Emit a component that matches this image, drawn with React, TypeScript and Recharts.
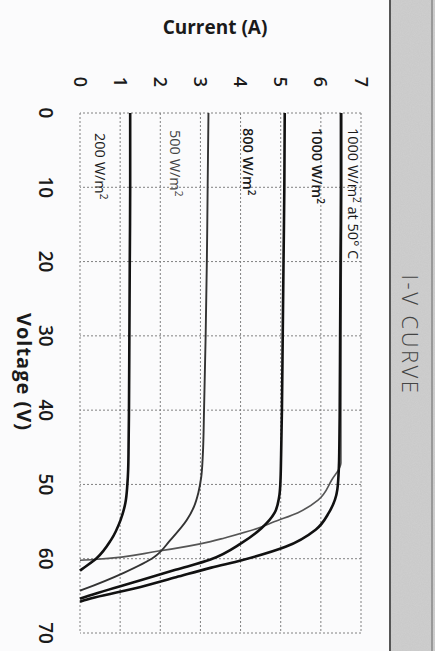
import { LineChart, Line, XAxis, YAxis, CartesianGrid } from 'recharts';

// scanned datasheet chart, drawn upright then turned 90deg clockwise
const voltageTicks = [0, 10, 20, 30, 40, 50, 60, 70];
const currentTicks = [0, 1, 2, 3, 4, 5, 6, 7];

const v200 = [0, 10, 20, 30, 40, 45, 48, 50, 52.5, 54.8, 57.5, 59.9, 61.4, 61.6];
const i200 = [1.25, 1.25, 1.24, 1.23, 1.22, 1.21, 1.2, 1.18, 1.13, 1.01, 0.77, 0.42, 0.05, 0];

const v500 = [0, 10, 20, 30, 40, 46, 49, 51.1, 53, 54.8, 57.5, 59.8, 61.9, 64.2, 64.3];
const i500 = [3.2, 3.18, 3.16, 3.13, 3.09, 3.06, 3.02, 2.95, 2.84, 2.66, 2.25, 1.84, 1.09, 0.05, 0];

const v800 = [0, 10, 20, 30, 40, 46, 50, 51.7, 53.8, 55.9, 57.9, 60.1, 61.5, 62.9, 65.3, 65.4];
const i800 = [5.1, 5.09, 5.07, 5.05, 5.03, 5.01, 4.99, 4.96, 4.85, 4.52, 4.02, 3.25, 2.38, 1.51, 0.05, 0];

const v1000 = [0, 10, 20, 30, 40, 45, 47.5, 50.7, 53.8, 56.1, 58.4, 60.2, 61.2, 62.5, 63.8, 65.7, 65.8];
const i1000 = [6.5, 6.5, 6.49, 6.48, 6.47, 6.46, 6.45, 6.41, 6.2, 5.87, 5.12, 4.03, 3.27, 2.39, 1.51, 0.05, 0];

const vHot = [0, 10, 20, 30, 40, 45, 47.1, 49.4, 52.1, 53.8, 55.0, 55.9, 57.2, 57.7, 59.0, 60.1, 60.2];
const iHot = [6.52, 6.52, 6.51, 6.5, 6.5, 6.5, 6.5, 6.27, 5.93, 5.43, 4.85, 4.43, 3.6, 3.25, 1.92, 0.35, 0];

const toPoints = (v: number[], i: number[]) => v.map((x, k) => ({ v: x, i: i[k] }));

const series = [
  { key: 'hot', data: toPoints(vHot, iHot), color: '#555', width: 1.6 },
  { key: '200', data: toPoints(v200, i200), color: '#111', width: 2.6 },
  { key: '500', data: toPoints(v500, i500), color: '#333', width: 1.9 },
  { key: '800', data: toPoints(v800, i800), color: '#111', width: 2.6 },
  { key: '1000', data: toPoints(v1000, i1000), color: '#111', width: 2.6 },
];

const W = 651;
const H = 435;
const font = '"Open Sans", sans-serif';

function Irr({ x, y, value, tail, weight = 400, color = '#1a1a1a' }: { x: number; y: number; value: string; tail?: string; weight?: number; color?: string }) {
  return (
    <text x={x} y={y} fontSize={14.5} fontFamily={font} fontWeight={weight} fill={color}>
      {value} W/m
      <tspan dy={-5} fontSize={10}>2</tspan>
      {tail && <tspan dy={5}>{tail}</tspan>}
    </text>
  );
}

export default function App() {
  return (
    <div style={{ position: 'fixed', left: 0, top: 0, width: H, height: W, overflow: 'hidden', background: '#fbfbfc' }}>
      <div style={{ position: 'absolute', left: 0, top: 0, width: W, height: H, transformOrigin: '0 0', transform: `translateX(${H}px) rotate(90deg)` }}>
        <svg width={W} height={H} style={{ position: 'absolute', left: 0, top: 0 }}>
          <filter id="grain">
            <feTurbulence type="fractalNoise" baseFrequency="0.9" numOctaves={2} seed={3} />
            <feColorMatrix type="matrix" values="0 0 0 0 0.5  0 0 0 0 0.5  0 0 0 0 0.5  0 0 0 0.35 0" />
            <feComposite in2="SourceGraphic" operator="in" />
          </filter>
          <rect x={0} y={0} width={W} height={45} fill="#cfcfcf" />
          <rect x={0} y={0} width={W} height={45} fill="#cfcfcf" filter="url(#grain)" />
          <line x1={0} x2={W} y1={45} y2={45} stroke="#555" strokeWidth={2} />
          <line x1={0} x2={W} y1={3} y2={3} stroke="#666" strokeWidth={1} />
        </svg>
        <div style={{ position: 'absolute', left: 0, top: 0 }}>
          <LineChart width={W} height={H} margin={{ top: 74, right: 18, bottom: 40, left: 63 }}>
            <CartesianGrid stroke="#808080" strokeDasharray="2 2" />
            <XAxis
              type="number"
              dataKey="v"
              domain={[0, 70]}
              ticks={voltageTicks}
              interval={0}
              height={40}
              axisLine={false}
              tickLine={false}
              tickSize={0}
              tickMargin={28}
              tick={{ fontSize: 19, fill: '#1a1a1a', fontFamily: font, fontWeight: 600 }}
            />
            <YAxis
              type="number"
              domain={[0, 7]}
              ticks={currentTicks}
              interval={0}
              width={50}
              axisLine={false}
              tickLine={false}
              tickSize={0}
              tickMargin={26}
              tick={{ fontSize: 18, fill: '#1a1a1a', fontFamily: font, fontWeight: 600 }}
            />
            {series.map((s) => (
              <Line
                key={s.key}
                data={s.data}
                dataKey="i"
                type="monotone"
                stroke={s.color}
                strokeWidth={s.width}
                dot={false}
                isAnimationActive={false}
              />
            ))}
          </LineChart>
        </div>
        <svg width={W} height={H} style={{ position: 'absolute', left: 0, top: 0, pointerEvents: 'none' }}>
          <text x={335} y={33} textAnchor="middle" fontSize={22} fontWeight={300} letterSpacing={2.5} fontFamily={font} fill="#444">I-V CURVE</text>
          <text x={27} y={220} transform="rotate(-90 27 220)" textAnchor="middle" dominantBaseline="central" fontSize={19} fontWeight={700} fontFamily={font} fill="#1a1a1a">Current (A)</text>
          <text x={372} y={418} textAnchor="middle" fontSize={20} fontWeight={700} letterSpacing={1} fontFamily={font} fill="#1a1a1a">Voltage (V)</text>
          <Irr x={128} y={87} value="1000" tail=" at 50° C" />
          <Irr x={128} y={123} value="1000" weight={600} />
          <Irr x={128} y={192} value="800" weight={600} />
          <Irr x={130} y={265} value="500" color="#444" />
          <Irr x={133} y={340} value="200" />
        </svg>
      </div>
    </div>
  );
}
